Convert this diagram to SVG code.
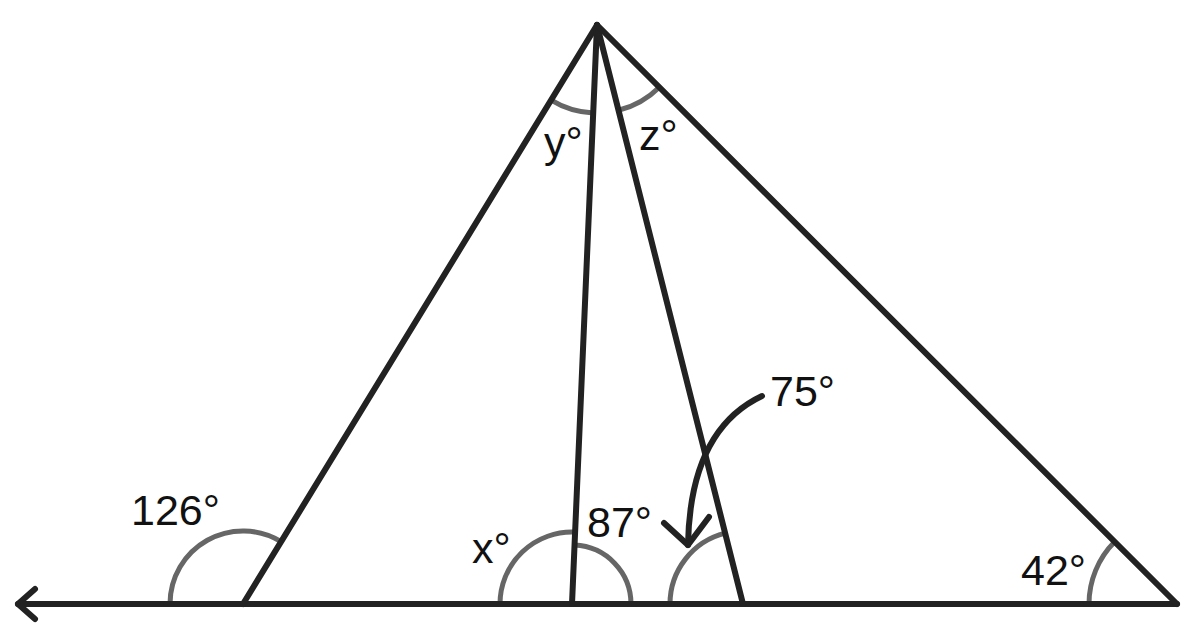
<svg xmlns="http://www.w3.org/2000/svg" width="1200" height="640" viewBox="0 0 1200 640">
<style>
.ln{stroke:#222;stroke-width:6;fill:none;stroke-linecap:round;stroke-linejoin:round}
.arc{stroke:#666;stroke-width:5;fill:none}
.lbl{font-family:"Liberation Sans",Arial,sans-serif;font-size:43px;fill:#111}
</style>
<rect width="1200" height="640" fill="#fff"/>
<g id="angle-arcs">
<path class="arc" d="M170 604 A73 73 0 0 1 281.1 541.7"/>
<path class="arc" d="M500 604 A72 72 0 0 1 575.1 532.1"/>
<path class="arc" d="M574.5 545.1 A59 59 0 0 1 631 604"/>
<path class="arc" d="M670 604 A73 73 0 0 1 725.2 533.2"/>
<path class="arc" d="M551.1 100.1 A88 88 0 0 0 593.2 112.9"/>
<path class="arc" d="M618.5 110.3 A88 88 0 0 0 659.3 87.2"/>
<path class="arc" d="M1089 604 A88 88 0 0 1 1114.7 541.8"/>
</g>
<g id="lines">
<line class="ln" x1="18" y1="604" x2="1177" y2="604"/>
<polyline class="ln" points="35,589 18,604 35,619"/>
<line class="ln" x1="243" y1="604" x2="597" y2="25"/>
<line class="ln" x1="572" y1="604" x2="597" y2="25"/>
<line class="ln" x1="743" y1="604" x2="597" y2="25"/>
<line class="ln" x1="1177" y1="604" x2="597" y2="25"/>
</g>
<g id="pointer">
<path class="ln" d="M762 396 Q690 430 688 545"/>
<polyline class="ln" points="664,523 688,545 709,517"/>
</g>
<g id="labels">
<text class="lbl" x="131" y="525">126°</text>
<text class="lbl" x="472" y="563">x°</text>
<text class="lbl" x="587" y="537">87°</text>
<text class="lbl" x="770" y="406">75°</text>
<text class="lbl" x="1021" y="585">42°</text>
<text class="lbl" x="544" y="157">y°</text>
<text class="lbl" x="639" y="150">z°</text>
</g>
</svg>
